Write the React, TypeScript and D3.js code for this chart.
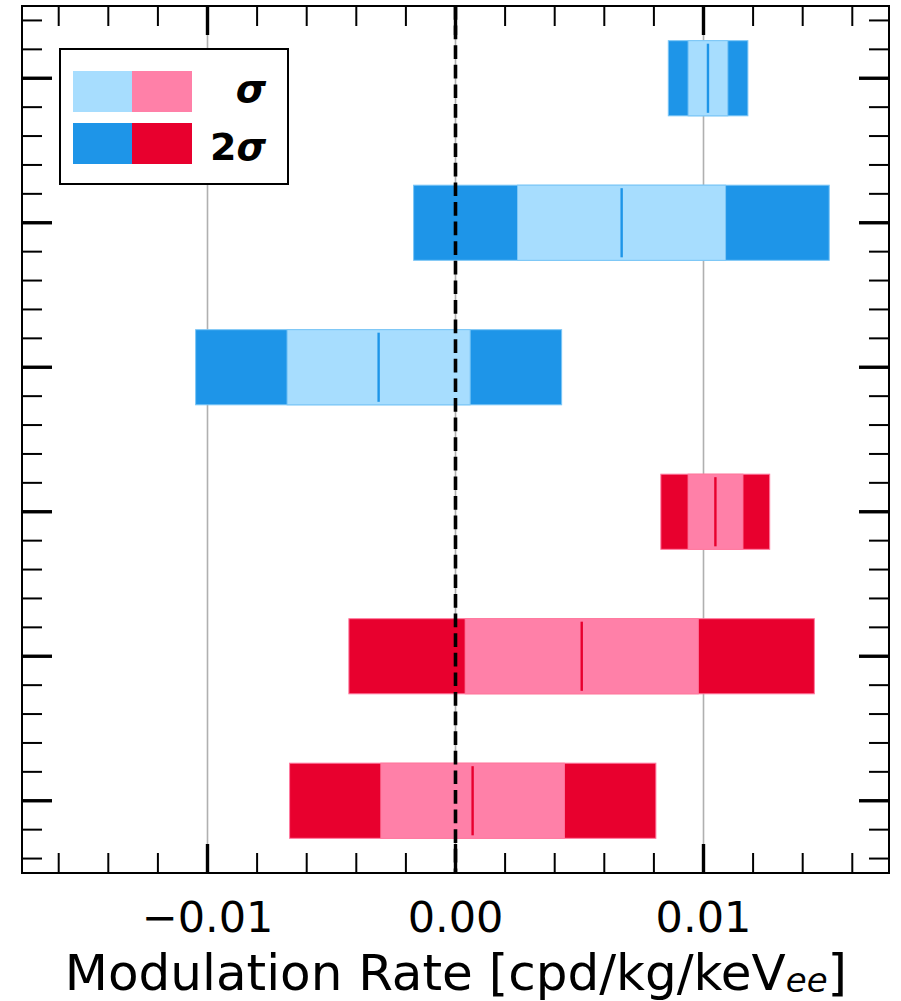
import React from "react";
import * as d3 from "d3";

// rows from bottom (0) to top (5)
const rows = [0, 1, 2, 3, 4, 5];
const group = ["red", "red", "red", "blue", "blue", "blue"];
const centre = [0.00069, 0.00509, 0.01048, -0.0031, 0.0067, 0.01018];
const sig1Lo = [-0.00301, 0.00039, 0.00938, -0.00679, 0.0025, 0.00938];
const sig1Hi = [0.00439, 0.00979, 0.01159, 0.00059, 0.01089, 0.01098];
const sig2Lo = [-0.00669, -0.0043, 0.00828, -0.01048, -0.00169, 0.00858];
const sig2Hi = [0.00808, 0.01447, 0.01267, 0.00428, 0.01507, 0.01179];

const xMajor = [-0.01, 0, 0.01];
const xLabels = ["\u22120.01", "0.00", "0.01"];

const colors: Record<string, { light: string; dark: string; edge: string }> = {
  blue: { light: "#a7ddfe", dark: "#1e95e8", edge: "#7cc6f6" },
  red: { light: "#ff80a8", dark: "#e8002e", edge: "#ff7aa0" },
};

const W = 901;
const H = 1001;
const left = 22;
const right = 889;
const top = 6;
const bottom = 873;

export default function App() {
  const x = d3.scaleLinear().domain([-0.01748, 0.01748]).range([left, right]);
  const y = d3.scaleLinear().domain([-0.5, 5.5]).range([bottom, top]);
  const barH = y(0) - y(0.52);

  const xMinor = d3.range(-16, 17, 2).map((v) => v / 1000).filter((v) => !xMajor.some((m) => Math.abs(m - v) < 1e-9));
  const yMinor = d3.range(-2, 28).map((v) => v / 5).filter((v) => Math.abs(v - Math.round(v)) > 1e-9);

  return (
    <svg width={W} height={H} style={{ position: "absolute", left: 0, top: 0, background: "#fff" }}
      fontFamily="'DejaVu Sans', sans-serif">
      {/* grid lines */}
      {xMajor.map((v) => (
        <line key={"g" + v} x1={x(v)} x2={x(v)} y1={top} y2={bottom} stroke="#b0b0b0" strokeWidth={1.6} />
      ))}

      {/* bars */}
      {rows.map((r, i) => {
        const c = colors[group[i]];
        const yc = y(r);
        return (
          <g key={"r" + r}>
            <rect x={x(sig2Lo[i])} width={x(sig2Hi[i]) - x(sig2Lo[i])} y={yc - barH / 2} height={barH}
              fill={c.dark} stroke={c.edge} strokeWidth={1} />
            <rect x={x(sig1Lo[i])} width={x(sig1Hi[i]) - x(sig1Lo[i])} y={yc - barH / 2} height={barH}
              fill={c.light} stroke={c.edge} strokeWidth={1} />
            <line x1={x(centre[i])} x2={x(centre[i])} y1={yc - barH / 2 + 3} y2={yc + barH / 2 - 3}
              stroke={c.dark} strokeWidth={2.4} />
          </g>
        );
      })}

      {/* zero line */}
      <line x1={x(0)} x2={x(0)} y1={top} y2={bottom} stroke="#000" strokeWidth={3.6} strokeDasharray="13.7,5.9" />

      {/* ticks */}
      {xMajor.map((v) => (
        <g key={"xt" + v}>
          <line x1={x(v)} x2={x(v)} y1={top} y2={top + 29} stroke="#000" strokeWidth={3.4} />
          <line x1={x(v)} x2={x(v)} y1={bottom} y2={bottom - 29} stroke="#000" strokeWidth={3.4} />
        </g>
      ))}
      {xMinor.map((v) => (
        <g key={"xm" + v}>
          <line x1={x(v)} x2={x(v)} y1={top} y2={top + 20} stroke="#000" strokeWidth={2} />
          <line x1={x(v)} x2={x(v)} y1={bottom} y2={bottom - 20} stroke="#000" strokeWidth={2} />
        </g>
      ))}
      {rows.map((v) => (
        <g key={"yt" + v}>
          <line x1={left} x2={left + 30} y1={y(v)} y2={y(v)} stroke="#000" strokeWidth={3.4} />
          <line x1={right} x2={right - 30} y1={y(v)} y2={y(v)} stroke="#000" strokeWidth={3.4} />
        </g>
      ))}
      {yMinor.map((v) => (
        <g key={"ym" + v}>
          <line x1={left} x2={left + 20} y1={y(v)} y2={y(v)} stroke="#000" strokeWidth={2} />
          <line x1={right} x2={right - 20} y1={y(v)} y2={y(v)} stroke="#000" strokeWidth={2} />
        </g>
      ))}

      {/* frame */}
      <rect x={left} y={top} width={right - left} height={bottom - top} fill="none" stroke="#000" strokeWidth={2} />

      {/* tick labels */}
      {xMajor.map((v, i) => (
        <text key={"xl" + v} x={x(v)} y={932} textAnchor="middle" fontSize={43}>{xLabels[i]}</text>
      ))}

      {/* axis title */}
      <text x={456} y={990} textAnchor="middle" fontSize={50}>
        Modulation Rate [cpd/kg/keV
        <tspan fontStyle="oblique" fontSize={34} dy={2}>ee</tspan>
        <tspan dy={-2}>]</tspan>
      </text>

      {/* legend */}
      <rect x={60} y={49} width={228} height={135} fill="#fff" stroke="#000" strokeWidth={2} />
      <rect x={73} y={71} width={59} height={41} fill={colors.blue.light} />
      <rect x={132} y={71} width={60} height={41} fill={colors.red.light} />
      <rect x={73} y={123} width={59} height={41} fill={colors.blue.dark} />
      <rect x={132} y={123} width={60} height={41} fill={colors.red.dark} />
      <text x={266} y={102} textAnchor="end" fontSize={39} fontWeight="bold" fontStyle="oblique">σ</text>
      <text x={266} y={160} textAnchor="end" fontSize={38} fontWeight="bold">
        2<tspan fontStyle="oblique">σ</tspan>
      </text>
    </svg>
  );
}
